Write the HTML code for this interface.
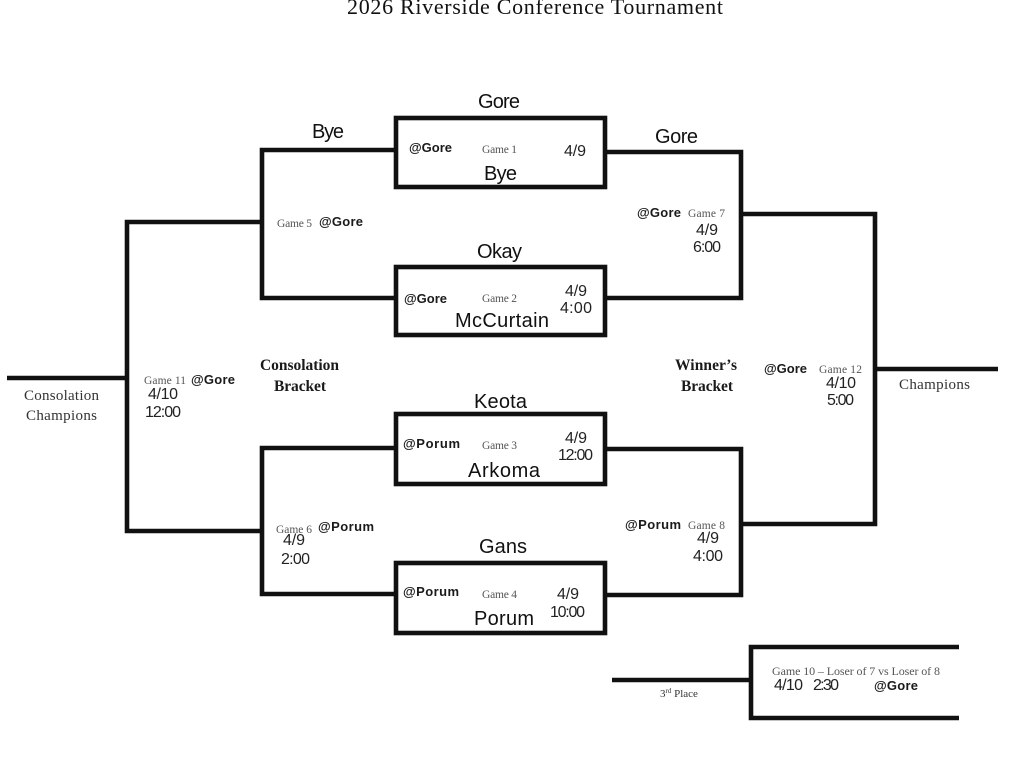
<!DOCTYPE html>
<html>
<head>
<meta charset="utf-8">
<style>
  html,body{margin:0;padding:0;background:#fff;}
  svg{display:block;}
  .team{font-family:"Liberation Sans",Arial,sans-serif;font-size:20px;fill:#111;}
  .venue{font-family:"Liberation Sans",Arial,sans-serif;font-size:13px;font-weight:bold;fill:#1a1a1a;}
  .game{font-family:"Liberation Serif","Times New Roman",serif;font-size:11.5px;fill:#555;}
  .dt{font-family:"Liberation Sans",Arial,sans-serif;font-size:16px;fill:#222;}
  .bl{font-family:"Liberation Serif","Times New Roman",serif;font-size:15.5px;font-weight:bold;fill:#1a1a1a;}
  .rs{font-family:"Liberation Serif","Times New Roman",serif;font-size:15px;fill:#333;}
  .title{font-family:"Liberation Serif","Times New Roman",serif;font-size:22px;fill:#111;}
</style>
</head>
<body>
<svg width="1024" height="777" viewBox="0 0 1024 777" xmlns="http://www.w3.org/2000/svg">
  <rect width="1024" height="777" fill="#fff"/>
  <text class="title" x="347" y="14" textLength="376">2026 Riverside Conference Tournament</text>

  <g fill="none" stroke="#111" stroke-width="4.6" stroke-linejoin="miter">
    <rect x="396" y="118" width="209" height="69"/>
    <rect x="396" y="267" width="209" height="68"/>
    <rect x="396" y="414" width="209" height="70"/>
    <rect x="396" y="563" width="209" height="70"/>
    <path d="M396,150 H262 V298 H396"/>
    <path d="M262,222 H127 V531 H262"/>
    <path d="M7,378 H127"/>
    <path d="M396,448 H262 V594 H396"/>
    <path d="M605,152 H741 V298 H605"/>
    <path d="M741,214 H875 V524 H741"/>
    <path d="M875,369 H998"/>
    <path d="M605,449 H741 V595 H605"/>
    <path d="M612,680 H751"/>
    <path d="M959,647 H751 V718 H959"/>
  </g>

  <text class="team" x="478" y="108" textLength="42">Gore</text>
  <text class="team" x="312" y="138" textLength="32">Bye</text>
  <text class="team" x="655" y="143" textLength="43">Gore</text>
  <text class="team" x="484" y="180" textLength="33">Bye</text>
  <text class="team" x="477" y="258" textLength="45">Okay</text>
  <text class="team" x="455" y="327" textLength="94">McCurtain</text>
  <text class="team" x="474" y="408" textLength="53">Keota</text>
  <text class="team" x="468" y="477" textLength="72">Arkoma</text>
  <text class="team" x="479" y="553" textLength="48">Gans</text>
  <text class="team" x="474" y="625" textLength="60">Porum</text>

  <text class="venue" x="409" y="152" textLength="43">@Gore</text>
  <text class="venue" x="404" y="303" textLength="43">@Gore</text>
  <text class="venue" x="403" y="448" textLength="57">@Porum</text>
  <text class="venue" x="403" y="596" textLength="56">@Porum</text>
  <text class="venue" x="319" y="226" textLength="44">@Gore</text>
  <text class="venue" x="191" y="384" textLength="44">@Gore</text>
  <text class="venue" x="637" y="217" textLength="44">@Gore</text>
  <text class="venue" x="764" y="373" textLength="43">@Gore</text>
  <text class="venue" x="318" y="531" textLength="56">@Porum</text>
  <text class="venue" x="625" y="529" textLength="56">@Porum</text>
  <text class="venue" x="874" y="690" textLength="44">@Gore</text>

  <text class="game" x="482" y="153" textLength="35">Game 1</text>
  <text class="game" x="482" y="302" textLength="35">Game 2</text>
  <text class="game" x="482" y="449" textLength="35">Game 3</text>
  <text class="game" x="482" y="598" textLength="35">Game 4</text>
  <text class="game" x="277" y="227" textLength="35">Game 5</text>
  <text class="game" x="276" y="533" textLength="36">Game 6</text>
  <text class="game" x="688" y="217" textLength="37">Game 7</text>
  <text class="game" x="688" y="529" textLength="37">Game 8</text>
  <text class="game" x="144" y="384" textLength="42">Game 11</text>
  <text class="game" x="819" y="373" textLength="43">Game 12</text>
  <text class="game" x="772" y="675" textLength="168" style="font-size:12px">Game 10 – Loser of 7 vs Loser of 8</text>

  <text class="dt" x="564" y="156" textLength="22">4/9</text>
  <text class="dt" x="565" y="296" textLength="22">4/9</text>
  <text class="dt" x="560" y="313" textLength="32">4:00</text>
  <text class="dt" x="565" y="443" textLength="22">4/9</text>
  <text class="dt" x="558" y="460" textLength="35">12:00</text>
  <text class="dt" x="557" y="599" textLength="22">4/9</text>
  <text class="dt" x="550" y="617" textLength="35">10:00</text>
  <text class="dt" x="283" y="545" textLength="22">4/9</text>
  <text class="dt" x="281" y="564" textLength="29">2:00</text>
  <text class="dt" x="697" y="543" textLength="22">4/9</text>
  <text class="dt" x="693" y="561" textLength="30">4:00</text>
  <text class="dt" x="696" y="235" textLength="22">4/9</text>
  <text class="dt" x="693" y="252" textLength="28">6:00</text>
  <text class="dt" x="148" y="399" textLength="30">4/10</text>
  <text class="dt" x="145" y="417" textLength="36">12:00</text>
  <text class="dt" x="826" y="388" textLength="30">4/10</text>
  <text class="dt" x="827" y="405" textLength="27">5:00</text>
  <text class="dt" x="774" y="690" textLength="29">4/10</text>
  <text class="dt" x="813" y="690" textLength="26">2:30</text>

  <text class="bl" x="260" y="370" textLength="79">Consolation</text>
  <text class="bl" x="274" y="391" textLength="52">Bracket</text>
  <text class="bl" x="675" y="370" textLength="62">Winner’s</text>
  <text class="bl" x="681" y="391" textLength="52">Bracket</text>

  <text class="rs" x="24" y="400" textLength="75">Consolation</text>
  <text class="rs" x="26" y="420" textLength="71">Champions</text>
  <text class="rs" x="899" y="389" textLength="71">Champions</text>
  <text class="rs" x="660" y="697" style="font-size:11px">3<tspan style="font-size:7px" dy="-4">rd</tspan><tspan dy="4"> Place</tspan></text>
</svg>
</body>
</html>
